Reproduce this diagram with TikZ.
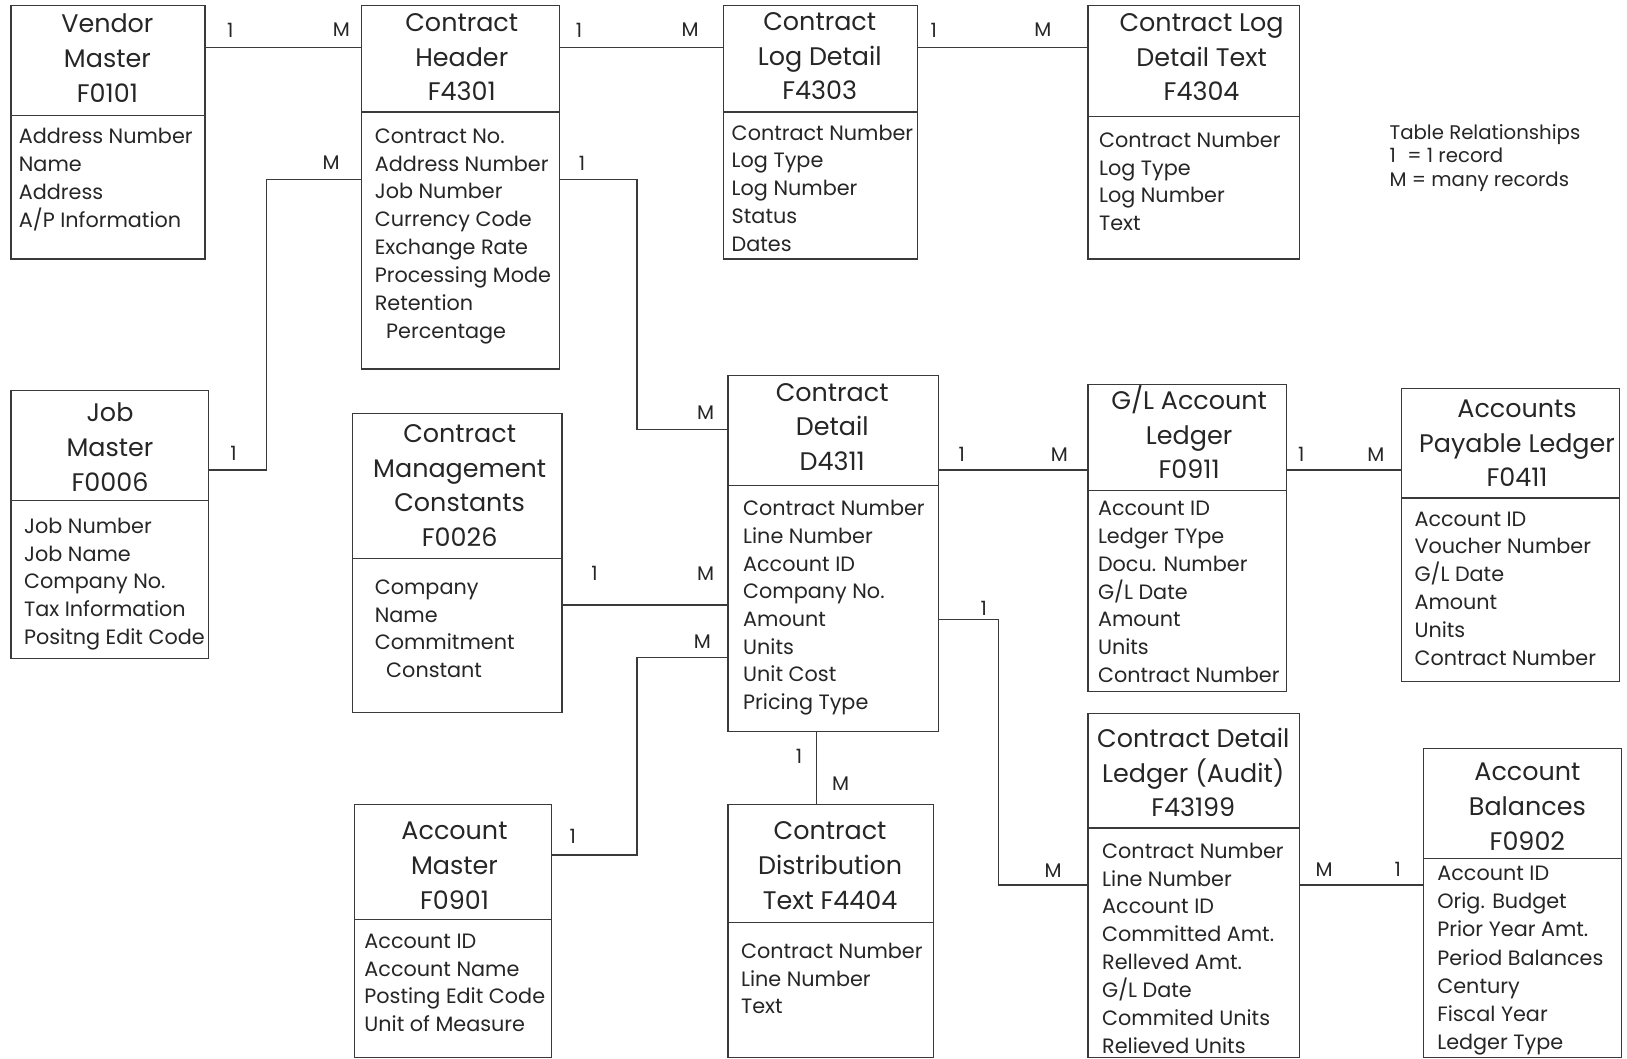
\documentclass[tikz,border=0pt]{standalone}
\usepackage{fontspec}
\setmainfont{Poppins}
\definecolor{linec}{HTML}{3A3A3A}
\definecolor{txtc}{HTML}{262626}
\newcommand\fldfont{\fontsize{20}{24}\selectfont}
\newcommand\ttlfont{\fontsize{24.5}{30}\selectfont}
\newcommand\cardfont{\fontsize{19}{23}\selectfont}
\tikzset{
  tbl/.style={draw=linec, line width=1.1pt, rectangle, inner sep=0pt, anchor=north west},
  ttl/.style={font=\ttlfont, text=txtc, anchor=base, inner sep=0pt},
  fld/.style={font=\fldfont, text=txtc, anchor=base west, inner sep=0pt},
  card/.style={font=\cardfont, text=txtc, anchor=center, inner sep=0pt},
  link/.style={draw=linec, line width=1.2pt},
}
% name, L, T, R, B, divider y
\newcommand\tablebox[6]{%
  \node[tbl, minimum width={(#4-#2)*1pt}, minimum height={(#5-#3)*1pt}] (#1) at (#2,#3) {};
  \draw[link] (#1.west |- 0,#6) -- (#1.east |- 0,#6);
}
% name, cx, first baseline, list
\newcommand\titlelines[4]{%
  \foreach \tx [count=\i from 0] in {#4} \node[ttl] (#1-t\i) at (#2,{#3+\i*33.4}) {\tx};
}
% name, x, first baseline, step, list
\newcommand\fieldlines[5]{%
  \foreach \tx [count=\i from 0] in {#5} \node[fld] (#1-f\i) at (#2,{#3+\i*#4}) {\tx};
}
\begin{document}
\begin{tikzpicture}[x=1pt,y=-1pt]
\useasboundingbox (0,0) rectangle (1568,1020);
\fill[white] (0,0) rectangle (1568,1020);

% ---------- tables ----------
\tablebox{vm}{10}{5}{197}{249}{111}
\titlelines{vm}{103.5}{31.5}{Vendor,Master,F0101}
\fieldlines{vm}{18}{138}{27}{Address Number,Name,Address,A/P Information}

\tablebox{ch}{348}{5}{539}{355}{108}
\titlelines{ch}{445}{30.5}{Contract,Header,F4301}
\fieldlines{ch}{361}{138}{26.86}{Contract No.,Address Number,Job Number,Currency Code,Exchange Rate,Processing Mode,Retention,\hspace{11pt}Percentage}

\tablebox{cld}{697}{5}{884}{249}{108}
\titlelines{cld}{790}{29.5}{Contract,Log Detail,F4303}
\fieldlines{cld}{705}{135}{26.75}{Contract Number,Log Type,Log Number,Status,Dates}

\tablebox{cldt}{1048}{5}{1252}{249}{112}
\titlelines{cldt}{1158}{30.5}{Contract Log,Detail Text,F4304}
\fieldlines{cldt}{1059}{142}{26.7}{Contract Number,Log Type,Log Number,Text}

\tablebox{jm}{10}{376}{200}{634}{482}
\titlelines{jm}{106}{406.5}{Job,Master,F0006}
\fieldlines{jm}{23}{514}{26.75}{Job Number,Job Name,Company No.,Tax Information,Positng Edit Code}

\tablebox{cmc}{339}{398}{541}{686}{538}
\titlelines{cmc}{443}{426.5}{Contract,Management,Constants,F0026}
\fieldlines{cmc}{361}{573}{26.7}{Company,Name,Commitment,\hspace{11pt}Constant}

\tablebox{cd}{701}{361}{904}{704}{468}
\titlelines{cd}{802}{386.5}{Contract,Detail,D4311}
\fieldlines{cd}{716}{497}{26.7}{Contract Number,Line Number,Account ID,Company No.,Amount,Units,Unit Cost,Pricing Type}

\tablebox{gl}{1048}{370}{1239}{666}{473}
\titlelines{gl}{1146}{394.5}{G/L Account,Ledger,F0911}
\fieldlines{gl}{1058}{497}{26.8}{Account ID,Ledger TYpe,Docu. Number,G/L Date,Amount,Units,Contract Number}

\tablebox{ap}{1350}{374}{1560}{656}{480}
\titlelines{ap}{1462}{402.5}{Accounts,Payable Ledger,F0411}
\fieldlines{ap}{1363}{507}{26.8}{Account ID,Voucher Number,G/L Date,Amount,Units,Contract Number}

\tablebox{am}{341}{775}{531}{1019}{886}
\titlelines{am}{438}{809.5}{Account,Master,F0901}
\fieldlines{am}{351}{914}{26.7}{Account ID,Account Name,Posting Edit Code,Unit of Measure}

\tablebox{cdt}{701}{775}{899}{1019}{889}
\titlelines{cdt}{800}{809.5}{Contract,Distribution,Text F4404}
\fieldlines{cdt}{714}{924}{26.5}{Contract Number,Line Number,Text}

\tablebox{cdl}{1048}{687}{1252}{1019}{798}
\titlelines{cdl}{1150}{720.5}{Contract Detail,Ledger (Audit),F43199}
\fieldlines{cdl}{1062}{827}{26.9}{Contract Number,Line Number,Account ID,Committed Amt.,Relleved Amt.,G/L Date,Commited Units,Relieved Units}

\tablebox{ab}{1371}{721}{1562}{1019}{827}
\titlelines{ab}{1472}{752.5}{Account,Balances,F0902}
\fieldlines{ab}{1385}{849}{27}{Account ID,Orig. Budget,Prior Year Amt.,Period Balances,Century,Fiscal Year,Ledger Type}

% ---------- legend ----------
\node[fld, font=\cardfont] (leg1) at (1339,134) {Table Relationships};
\node[fld, font=\cardfont] (leg2) at (1339,157) {1\hspace{6pt} = 1 record};
\node[fld, font=\cardfont] (leg3) at (1339,180) {M = many records};

% ---------- connectors ----------
\coordinate (jb) at (257,453);
\coordinate (jt) at (257,173);
\coordinate (eb) at (614,173);
\coordinate (ee) at (614,414);
\coordinate (gb) at (614,824);
\coordinate (ge) at (614,634);
\coordinate (hx) at (787,704);
\coordinate (kb) at (962,597);
\coordinate (ke) at (962,853);

\draw[link] (vm.east |- 0,46) -- (ch.west |- 0,46);
\draw[link] (ch.east |- 0,46) -- (cld.west |- 0,46);
\draw[link] (cld.east |- 0,46) -- (cldt.west |- 0,46);
\draw[link] (jm.east |- jb) -- (jb) -- (jt) -- (ch.west |- jt);
\draw[link] (ch.east |- eb) -- (eb) -- (ee) -- (cd.west |- ee);
\draw[link] (cmc.east |- 0,583) -- (cd.west |- 0,583);
\draw[link] (am.east |- gb) -- (gb) -- (ge) -- (cd.west |- ge);
\draw[link] (cd.south -| hx) -- (cdt.north -| hx);
\draw[link] (cd.east |- 0,453) -- (gl.west |- 0,453);
\draw[link] (gl.east |- 0,453) -- (ap.west |- 0,453);
\draw[link] (cd.east |- kb) -- (kb) -- (ke) -- (cdl.west |- ke);
\draw[link] (cdl.east |- 0,853) -- (ab.west |- 0,853);

% ---------- cardinalities ----------
\node[card] (a1) at (222,29) {1};  \node[card] (aM) at (329,29) {M};
\node[card] (b1) at (558,29) {1};  \node[card] (bM) at (665,29) {M};
\node[card] (c1) at (900,29) {1};  \node[card] (cM) at (1005,29) {M};
\node[card] (d1) at (225,437) {1}; \node[card] (dM) at (319,157) {M};
\node[card] (e1) at (561,157) {1}; \node[card] (eM) at (680,398) {M};
\node[card] (f1) at (573,553) {1}; \node[card] (fM) at (680,553) {M};
\node[card] (g1) at (552,806) {1}; \node[card] (gM) at (677,618) {M};
\node[card] (h1) at (770,729) {1}; \node[card] (hM) at (810,755) {M};
\node[card] (i1) at (927,438) {1}; \node[card] (iM) at (1021,438) {M};
\node[card] (j1) at (1254,438) {1};\node[card] (jM) at (1326,438) {M};
\node[card] (k1) at (948,586) {1}; \node[card] (kM) at (1015,839) {M};
\node[card] (lM) at (1276,838) {M};\node[card] (l1) at (1347,838) {1};
\end{tikzpicture}
\end{document}
